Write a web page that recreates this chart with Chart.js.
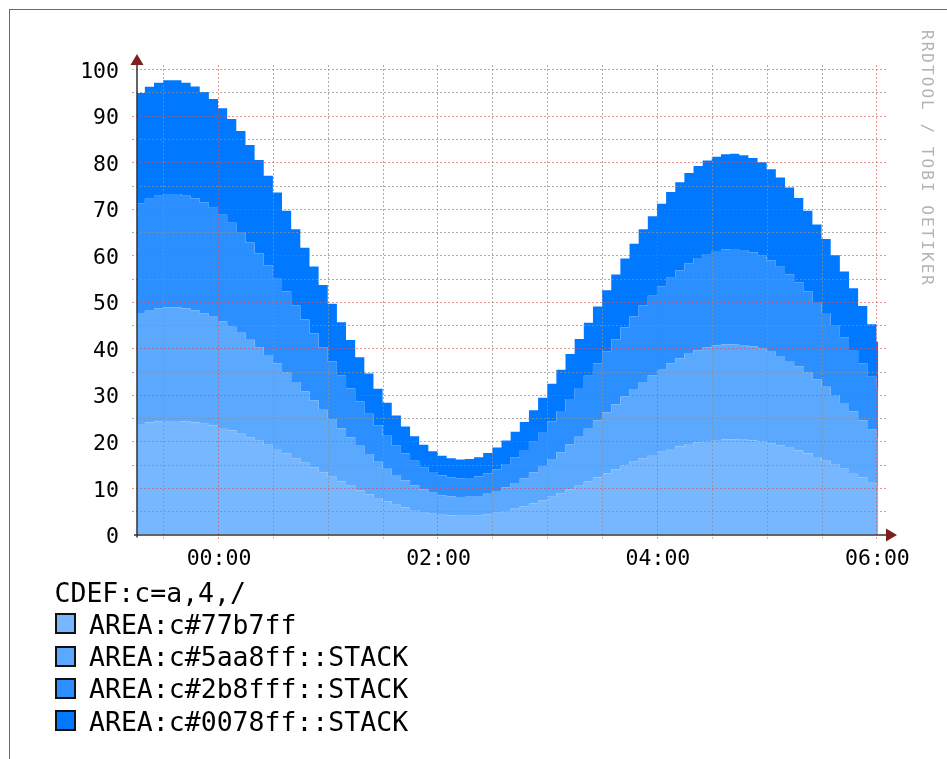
<!DOCTYPE html>
<html>
<head>
<meta charset="utf-8">
<title>CDEF:c=a,4,/</title>
<script src="https://cdn.jsdelivr.net/npm/chart.js@4.4.1/dist/chart.umd.min.js"></script>
<style>
  html, body { margin: 0; padding: 0; background: #fff; }
  #wrap { position: relative; width: 947px; height: 759px; overflow: hidden; background: #fff; }
  #frame { position: absolute; left: 9px; top: 9px; width: 1000px; height: 1000px;
           border-left: 1px solid #6a6a6a; border-top: 1px solid #6a6a6a; }
  #chart { position: absolute; left: 0; top: 0; }
  .lg { position: absolute; font-family: "DejaVu Sans Mono", monospace; font-size: 26.5px;
        line-height: 32px; color: #000; white-space: pre; }
  .box { position: absolute; width: 17px; height: 17px; border: 2px solid #111; }
  #mark { position: absolute; left: 935px; top: 29.5px; transform: rotate(90deg); transform-origin: 0 0;
          font-family: "DejaVu Sans Mono", monospace; font-size: 16px; line-height: 16px;
          letter-spacing: 2.05px; color: #b3b3b3; white-space: nowrap; }
</style>
</head>
<body>
<div id="wrap">
  <div id="frame"></div>
  <canvas id="chart" width="947" height="759"></canvas>
  <div id="legend"></div>
  <div id="mark">RRDTOOL / TOBI OETIKER</div>
</div>
<script>
// Time axis: one sample every 5 minutes, starting at 23:15 (minute -45 relative to 00:00)
const stepMinutes = 5;
const firstStepMinute = -45;
const lastSampleMinute = 361;

// Source series "a", one value per 5-minute step
const seriesA = [
  94.9, 96.2, 97.1, 97.6, 97.6, 97.1, 96.3, 95.1, 93.6,
  91.6, 89.3, 86.7, 83.7, 80.5, 77.1, 73.5, 69.6, 65.6, 61.6, 57.6, 53.6,
  49.6, 45.6, 41.8, 38.1, 34.6, 31.3, 28.3, 25.6, 23.2, 21.1, 19.3, 17.9,
  16.9, 16.4, 16.1, 16.2, 16.6, 17.5, 18.7, 20.2, 22.1, 24.2, 26.7, 29.4,
  32.4, 35.4, 38.8, 42.0, 45.5, 49.0, 52.5, 55.9, 59.3, 62.5, 65.6, 68.4,
  71.1, 73.6, 75.7, 77.7, 79.2, 80.4, 81.2, 81.7, 81.8, 81.5, 80.9, 80.0,
  78.5, 76.7, 74.6, 72.3, 69.6, 66.6, 63.5, 60.0, 56.5, 52.9, 49.1, 45.2,
  41.4
];

// CDEF:c=a,4,/
const seriesC = seriesA.map(v => v / 4);

const cdefLabel = 'CDEF:c=a,4,/';
const layerColors = ['#77b7ff', '#5aa8ff', '#2b8fff', '#0078ff'];
const layerLabels = ['AREA:c#77b7ff', 'AREA:c#5aa8ff::STACK', 'AREA:c#2b8fff::STACK', 'AREA:c#0078ff::STACK'];

const timeTickMinutes = [0, 120, 240, 360];
const timeTickLabels = ['00:00', '02:00', '04:00', '06:00'];
const valueTicks = [0, 10, 20, 30, 40, 50, 60, 70, 80, 90, 100];

const GRID = 'rgba(143,143,143,0.75)';
const MGRID = 'rgba(222,79,79,0.6)';
const AXIS = '#333333';
const ARROW = '#801f1f';
const FONT = '"DejaVu Sans Mono", monospace';

// step points: value of sample i holds from its minute until the next one
function stepPoints(values) {
  const pts = values.map((v, i) => ({ x: firstStepMinute + i * stepMinutes, y: v }));
  pts.push({ x: lastSampleMinute, y: values[values.length - 1] });
  return pts;
}

const datasets = layerLabels.map((label, i) => ({
  label,
  data: stepPoints(seriesC),
  backgroundColor: layerColors[i],
  borderColor: layerColors[i],
  borderWidth: 0,
  pointRadius: 0,
  stepped: 'before',
  fill: i === 0 ? 'origin' : '-1',
  tension: 0
}));

// rrdtool style grid, axes and arrows, drawn on top of the areas
const rrdGrid = {
  id: 'rrdGrid',
  afterDatasetsDraw(chart) {
    const { ctx, chartArea: a, scales: { x, y } } = chart;
    ctx.save();
    ctx.lineWidth = 1;
    ctx.setLineDash([2, 2]);
    for (let v = 5; v <= 100; v += 5) {
      const py = Math.round(y.getPixelForValue(v)) + 0.5;
      ctx.strokeStyle = v % 10 === 0 ? MGRID : GRID;
      ctx.beginPath();
      ctx.moveTo(a.left - 5, py);
      ctx.lineTo(a.right + 5, py);
      ctx.stroke();
    }
    for (let m = -30; m <= 360; m += 30) {
      const px = Math.round(x.getPixelForValue(m)) + 0.5;
      const major = m % 120 === 0;
      ctx.strokeStyle = major ? MGRID : GRID;
      ctx.beginPath();
      ctx.moveTo(px, a.top);
      ctx.lineTo(px, a.bottom + (major ? 7 : 4));
      ctx.stroke();
    }
    ctx.setLineDash([]);
    ctx.strokeStyle = AXIS;
    ctx.lineWidth = 1.5;
    const by = Math.round(a.bottom);
    const lx = Math.round(a.left);
    ctx.beginPath();
    ctx.moveTo(a.left - 3, by);
    ctx.lineTo(a.right + 5, by);
    ctx.moveTo(lx, a.bottom + 3);
    ctx.lineTo(lx, a.top);
    ctx.stroke();
    ctx.fillStyle = ARROW;
    ctx.beginPath();
    ctx.moveTo(lx - 6.5, a.top);
    ctx.lineTo(lx + 6.5, a.top);
    ctx.lineTo(lx, a.top - 11);
    ctx.closePath();
    ctx.fill();
    ctx.beginPath();
    ctx.moveTo(a.right + 5, by - 6.5);
    ctx.lineTo(a.right + 5, by + 6.5);
    ctx.lineTo(a.right + 16, by);
    ctx.closePath();
    ctx.fill();
    ctx.restore();
  }
};

new Chart(document.getElementById('chart'), {
  type: 'line',
  data: { datasets },
  plugins: [rrdGrid],
  options: {
    responsive: false,
    devicePixelRatio: 1,
    animation: false,
    events: [],
    layout: { padding: { left: 0, top: 65, right: 66, bottom: 184.5 } },
    plugins: { legend: { display: false }, tooltip: { enabled: false }, title: { display: false } },
    scales: {
      x: {
        type: 'linear',
        min: -44.3,
        max: 362.5,
        grid: { display: false },
        border: { display: false },
        afterFit(scale) { scale.height = 40; },
        afterBuildTicks(scale) { scale.ticks = timeTickMinutes.map(v => ({ value: v })); },
        ticks: {
          autoSkip: false,
          maxRotation: 0,
          padding: 4,
          labelOffset: 1,
          color: '#000',
          font: { family: FONT, size: 21.5 },
          callback: (v) => {
            const i = timeTickMinutes.indexOf(v);
            return i >= 0 ? timeTickLabels[i] : '';
          }
        }
      },
      y: {
        stacked: true,
        min: 0,
        max: 100.9,
        grid: { display: false },
        border: { display: false },
        afterFit(scale) { scale.width = 137; },
        afterBuildTicks(scale) { scale.ticks = valueTicks.map(v => ({ value: v })); },
        ticks: {
          padding: 10,
          labelOffset: 3,
          color: '#000',
          font: { family: FONT, size: 21.5 },
          callback: (v) => String(v)
        }
      }
    }
  }
});

// legend: comment line followed by one row per stacked area
const legend = document.getElementById('legend');
const head = document.createElement('div');
head.className = 'lg';
head.style.left = '54.5px';
head.style.top = '576.8px';
head.textContent = cdefLabel;
legend.appendChild(head);
layerLabels.forEach((label, i) => {
  const rowTop = 608.8 + i * 32.3;
  const box = document.createElement('div');
  box.className = 'box';
  box.style.left = '55px';
  box.style.top = (rowTop + 4.4) + 'px';
  box.style.background = layerColors[i];
  legend.appendChild(box);
  const txt = document.createElement('div');
  txt.className = 'lg';
  txt.style.left = '89px';
  txt.style.top = rowTop + 'px';
  txt.textContent = label;
  legend.appendChild(txt);
});
</script>
</body>
</html>
